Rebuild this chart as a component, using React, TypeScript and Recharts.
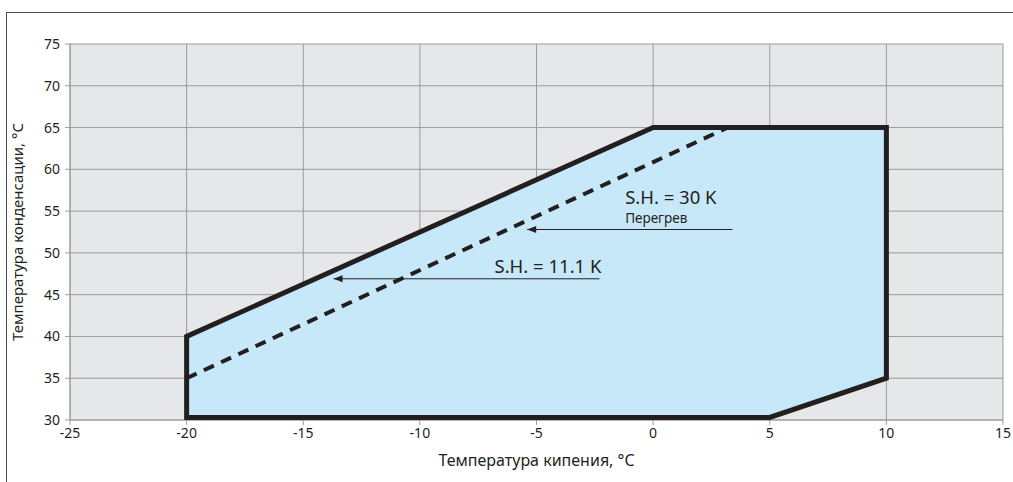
import { ComposedChart, Area, Scatter, XAxis, YAxis, CartesianGrid, Label } from "recharts"

const xTicks = [-25, -20, -15, -10, -5, 0, 5, 10, 15]
const yTicks = [30, 35, 40, 45, 50, 55, 60, 65, 70, 75]

// envelope: lower / upper condensing limit at each evaporating temp
const envelopeFill = [
  { x: -20, lo: 30, hi: 40 },
  { x: 0, lo: 30, hi: 65 },
  { x: 5, lo: 30, hi: 65 },
  { x: 10, lo: 35, hi: 65 },
]

const envelopeOutline = [
  { x: -20, y: 30.3 },
  { x: -20, y: 40 },
  { x: 0, y: 65 },
  { x: 10, y: 65 },
  { x: 10, y: 35 },
  { x: 5, y: 30.3 },
  { x: -20, y: 30.3 },
]

const superheat30 = [
  { x: -20, y: 35 },
  { x: 3.2, y: 65 },
]

const arrow30 = [
  { x: 3.4, y: 52.8 },
  { x: -5.4, y: 52.8 },
]
const arrow11 = [
  { x: -2.3, y: 46.9 },
  { x: -13.7, y: 46.9 },
]

const bigLabels = [
  { x: -1.2, y: 55.8, text: "S.H. = 30 K" },
  { x: -6.8, y: 47.6, text: "S.H. = 11.1 K" },
]
const smallLabels = [{ x: -1.2, y: 53.6, text: "Перегрев" }]

const INK = "#231f20"
const FONT = "'Noto Sans', sans-serif"

const noDot = () => <g />

const arrowHead = (p: any) => (
  <path d={`M${p.cx},${p.cy} l9,-3.5 l0,7 z`} fill={INK} />
)

const bigText = (p: any) => (
  <text x={p.cx} y={p.cy} fontSize={18.5} fill={INK} fontFamily={FONT}>
    {p.payload.text}
  </text>
)

const smallText = (p: any) => (
  <text x={p.cx} y={p.cy} fontSize={13.5} fill={INK} fontFamily={FONT}>
    {p.payload.text}
  </text>
)

export default function App() {
  return (
    <div style={{ position: "absolute", left: 0, top: 0, width: 1013, height: 482, background: "#fff", overflow: "hidden" }}>
      <div
        style={{
          position: "absolute",
          left: 6,
          top: 12,
          width: 1100,
          height: 600,
          borderLeft: "1px solid #4d4d4d",
          borderTop: "1px solid #4d4d4d",
        }}
      />
      <div style={{ position: "absolute", left: 0, top: 0 }}>
        <ComposedChart width={1013} height={482} margin={{ top: 44, right: 10, bottom: 12, left: 20 }}>
          <CartesianGrid fill="#e6e7e8" stroke="#9b9b9b" strokeWidth={1} horizontalValues={yTicks} verticalValues={xTicks} />
          <XAxis
            type="number"
            dataKey="x"
            domain={[-25, 15]}
            ticks={xTicks}
            interval={0}
            allowDataOverflow
            height={50}
            stroke="#9b9b9b"
            tickSize={5}
            tickMargin={3}
            tick={{ fill: INK, fontSize: 14, fontFamily: FONT }}
          >
            <Label value="Температура кипения, °C" position="insideBottom" offset={4} fill={INK} fontSize={16} fontFamily={FONT} />
          </XAxis>
          <YAxis
            type="number"
            dataKey="y"
            domain={[30, 75]}
            ticks={yTicks}
            interval={0}
            allowDataOverflow
            width={50}
            stroke="#9b9b9b"
            tickSize={5}
            tickMargin={5}
            tick={{ fill: INK, fontSize: 14, fontFamily: FONT }}
          >
            <Label
              value="Температура конденсации, °C"
              angle={-90}
              position="insideLeft"
              offset={-2}
              style={{ textAnchor: "middle" }}
              fill={INK}
              fontSize={15}
              fontFamily={FONT}
            />
          </YAxis>
          <Area
            data={envelopeFill}
            dataKey={(d: any) => [d.lo, d.hi]}
            type="linear"
            fill="#c7e8f8"
            fillOpacity={1}
            stroke="none"
            isAnimationActive={false}
          />
          <Scatter
            data={envelopeOutline}
            line={{ stroke: INK, strokeWidth: 5, strokeLinejoin: "miter", strokeLinecap: "square" }}
            lineType="joint"
            shape={noDot}
            isAnimationActive={false}
          />
          <Scatter
            data={superheat30}
            line={{ stroke: INK, strokeWidth: 4, strokeDasharray: "11 8" }}
            lineType="joint"
            shape={noDot}
            isAnimationActive={false}
          />
          <Scatter data={arrow30} line={{ stroke: INK, strokeWidth: 1 }} lineType="joint" shape={noDot} isAnimationActive={false} />
          <Scatter data={arrow11} line={{ stroke: INK, strokeWidth: 1 }} lineType="joint" shape={noDot} isAnimationActive={false} />
          <Scatter data={[arrow30[1], arrow11[1]]} shape={arrowHead} isAnimationActive={false} />
          <Scatter data={bigLabels} shape={bigText} isAnimationActive={false} />
          <Scatter data={smallLabels} shape={smallText} isAnimationActive={false} />
        </ComposedChart>
      </div>
    </div>
  )
}
